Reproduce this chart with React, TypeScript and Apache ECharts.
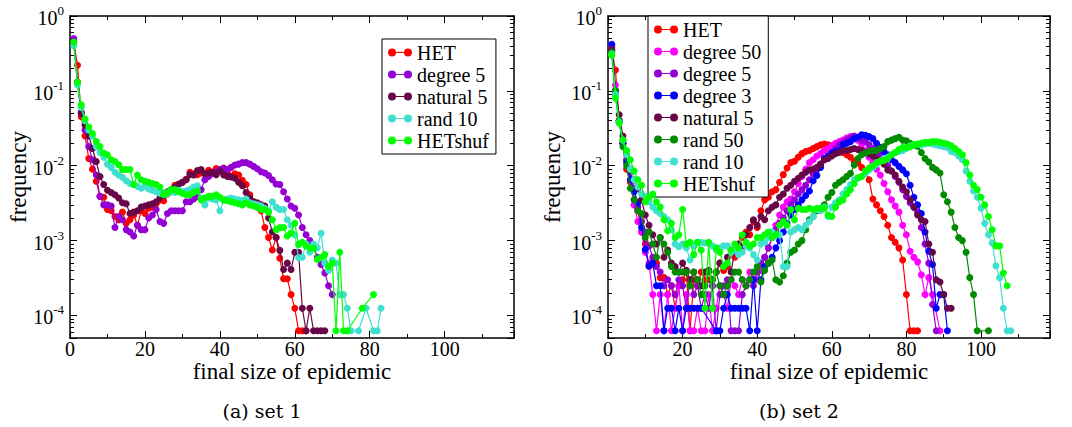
import React, { useEffect, useRef } from "react";
import * as echarts from "echarts";

const FONT = "Liberation Serif";

// ---------- (a) set 1 : frequency of final size 1, 2, 3, ... ----------
const set1Names = ["HET", "degree 5", "natural 5", "rand 10", "HETshuf"];
const set1Colors = ["#ff0000", "#9400d3", "#670748", "#40e0d0", "#00ff00"];

const set1HET = [
  0.45, 0.22, 0.045, 0.025, 0.0125, 0.009, 0.0062, 0.0039, 0.0038, 0.0026,
  0.0025, 0.0021, 0.0019, 0.0024, 0.0017, 0.0019, 0.0022, 0.0016, 0.0025, 0.0023,
  0.0027, 0.0028, 0.0031, 0.0035, 0.0034, 0.0042, 0.0045, 0.0055, 0.0057, 0.006,
  0.0066, 0.0082, 0.0078, 0.0076, 0.008, 0.0078, 0.0087, 0.008, 0.0092, 0.0087,
  0.0093, 0.008, 0.0072, 0.0078, 0.0075, 0.0064, 0.0056, 0.0041, 0.0033, 0.0028,
  0.0025, 0.0015, 0.0011, 0.00075, 0.0011, 0.00058, 0.00031, 0.00031, 0.00019, 0.000125,
  0.0000625, 0.0000625, 0.0000625,
];
const set1Deg5 = [
  0.5, 0.13, 0.052, 0.03, 0.018, 0.012, 0.0075, 0.0039, 0.003, 0.003,
  0.0029, 0.0015, 0.0021, 0.0019, 0.0014, 0.0013, 0.00115, 0.0016, 0.0014, 0.0014,
  0.002, 0.0022, 0.0026, 0.0018, 0.0017, 0.0023, 0.0025, 0.0025, 0.0025, 0.0025,
  0.0033, 0.0033, 0.0036, 0.0039, 0.0048, 0.0065, 0.0072, 0.0078, 0.0083, 0.0089,
  0.0092, 0.0089, 0.0095, 0.0102, 0.0105, 0.011, 0.011, 0.0105, 0.0098, 0.0091,
  0.0083, 0.008, 0.0074, 0.0065, 0.0057, 0.0056, 0.0045, 0.0036, 0.0029, 0.0027,
  0.0022, 0.0015, 0.0012, 0.001, 0.00085, 0.0006, 0.00048, 0.00037, 0.00025, 0.00019,
];
const set1Nat5 = [
  0.45, 0.13, 0.05, 0.035, 0.025, 0.017, 0.0114, 0.0072, 0.0056, 0.0047,
  0.0044, 0.0041, 0.0037, 0.0032, 0.0031, 0.0023, 0.0024, 0.0025, 0.0028, 0.0029,
  0.003, 0.0031, 0.0033, 0.0037, 0.004, 0.0045, 0.0048, 0.0052, 0.0056, 0.006,
  0.0065, 0.0076, 0.0075, 0.0086, 0.0089, 0.0078, 0.008, 0.0082, 0.0076, 0.0085,
  0.0075, 0.0072, 0.0071, 0.0068, 0.006, 0.0054, 0.0044, 0.0037, 0.0033, 0.0032,
  0.003, 0.0029, 0.002, 0.0013, 0.0011, 0.00074, 0.00041, 0.0005, 0.00041, 0.0007,
  0.0007, 0.000125, 0.0000625, 0.000125, 0.0000625, 0.0000625, 0.0000625, 0.0000625,
];
const set1Rand10 = [
  0.4, 0.12, 0.06, 0.04, 0.03, 0.025, 0.018, 0.015, 0.013, 0.0105,
  0.0095, 0.0082, 0.0075, 0.007, 0.0063, 0.0058, 0.0056, 0.0053, 0.005, 0.0053,
  0.0049, 0.0047, 0.0045, 0.0043, 0.0044, 0.0042, 0.0045, 0.0044, 0.0047, 0.0045,
  0.0046, 0.0048, 0.0052, 0.0054, 0.0037, 0.003, 0.0037, 0.0036, 0.0035, 0.0025,
  0.0035, 0.0036, 0.0037, 0.0036, 0.0035, 0.0034, 0.0036, 0.0032, 0.0031, 0.003,
  0.0029, 0.0027, 0.0025, 0.0033, 0.0028, 0.0026, 0.0026, 0.0019, 0.0016, 0.0012,
  0.00059, 0.0006, 0.0009, 0.0007, 0.0009, 0.0008, 0.00125, 0.0005, 0.0004, 0.00055,
  0.0005, 0.00019, 0.00019, 0.000125, 0.0000625, null, 0.0000625, null, 0.000125, null,
  0.0000625, 0.0000625, 0.000125,
];
const set1HETshuf = [
  0.45, 0.13, 0.065, 0.042, 0.033, 0.027, 0.021, 0.018, 0.0148, 0.014,
  0.012, 0.0114, 0.0103, 0.0089, 0.0089, 0.0089, 0.0056, 0.0075, 0.0065, 0.0062,
  0.006, 0.0058, 0.0056, 0.0052, 0.0041, 0.0044, 0.0048, 0.0048, 0.0045, 0.0043,
  0.0041, 0.0041, 0.0044, 0.0046, 0.0035, 0.0037, 0.0039, 0.0039, 0.0041, 0.0038,
  0.0035, 0.0034, 0.0033, 0.0032, 0.0031, 0.003, 0.0032, 0.003, 0.0029, 0.0028,
  0.0026, 0.0026, 0.0024, 0.0019, 0.0014, 0.0015, 0.0015, 0.00115, 0.00126, 0.0017,
  0.00089, 0.00095, 0.00085, 0.00079, 0.00079, 0.00056, 0.0006, 0.00065, 0.00045, 0.0005,
  0.0000625, 0.0007, 0.0000625, 0.0000625, null, null, null, 0.000125, null, null,
  0.00019,
];
const set1Series = [set1HET, set1Deg5, set1Nat5, set1Rand10, set1HETshuf];

// ---------- (b) set 2 ----------
const set2Names = ["HET", "degree 50", "degree 5", "degree 3", "natural 5", "rand 50", "rand 10", "HETshuf"];
const set2Colors = ["#ff0000", "#ff00ff", "#9400d3", "#0000ff", "#670748", "#008b00", "#40e0d0", "#00ff00"];

const set2HET = [
  0.35, 0.19, 0.04, 0.02, 0.009, 0.006, 0.0035, 0.0025, 0.0013, 0.0009,
  0.00045, 0.00048, 0.0005, 0.00032, 0.00032, 0.00019, 0.00025, 0.000125, 0.00025, 0.0003,
  0.00038, 0.0000625, 0.0003, 0.00025, 0.00038, 0.0003, 0.0003, 0.00025, 0.00038, 0.0005,
  0.0004, 0.00045, 0.00075, 0.0006, 0.0009, 0.0011, 0.0013, 0.0012, 0.0018, 0.0015,
  0.0025, 0.0035, 0.0038, 0.0045, 0.0048, 0.006, 0.0076, 0.0093, 0.011, 0.0115,
  0.013, 0.0145, 0.0155, 0.016, 0.017, 0.018, 0.019, 0.0195, 0.019, 0.0185,
  0.017, 0.016, 0.015, 0.014, 0.013, 0.0115, 0.011, 0.0095, 0.0085, 0.0065,
  0.0036, 0.003, 0.0025, 0.0021, 0.0016, 0.0011, 0.00095, 0.0008, 0.00055, 0.00019,
  0.0000625, 0.0000625, 0.0000625,
];
const set2Deg50 = [
  0.4, 0.12, 0.04, 0.02, 0.012, 0.0065, 0.003, 0.0018, 0.0013, 0.0007,
  0.0005, 0.00019, 0.0000625, 0.00019, 0.0000625, 0.00019, 0.0000625, 0.000125, 0.00025, 0.0000625,
  0.00019, 0.0000625, 0.0000625, 0.000125, 0.0000625, 0.0000625, 0.00019, 0.0000625, 0.000125, 0.00025,
  0.00019, 0.000125, 0.0003, 0.00025, 0.00019, 0.0003, 0.00025, 0.00038, 0.00031, 0.0003,
  0.0004, 0.0006, 0.0008, 0.0011, 0.0016, 0.0022, 0.0028, 0.0033, 0.0036, 0.0045,
  0.0058, 0.0072, 0.009, 0.011, 0.012, 0.0135, 0.0145, 0.016, 0.017, 0.0185,
  0.02, 0.021, 0.022, 0.0235, 0.0245, 0.024, 0.022, 0.019, 0.016, 0.013,
  0.011, 0.009, 0.0075, 0.0058, 0.0045, 0.0035, 0.0029, 0.0024, 0.0016, 0.0012,
  0.00072, 0.0006, 0.00052, 0.00035, 0.00019, 0.00032, 0.00019, null, 0.0000625,
];
const set2Deg5 = [
  0.38, 0.1, 0.04, 0.022, 0.012, 0.008, 0.005, 0.0028, 0.0018, 0.0013,
  0.00085, 0.0006, 0.00045, 0.00038, 0.00025, 0.0003, 0.00025, 0.00019, 0.0003, 0.00025,
  0.000125, 0.0003, 0.00019, 0.00025, 0.000125, 0.00019, 0.000125, 0.00025, 0.0000625, 0.00019,
  0.00025, 0.0003, 0.0000625, 0.0000625, 0.0000625, 0.00019, 0.00025, 0.0003, 0.00025, 0.00038,
  0.0005, 0.0006, 0.0008, 0.0011, 0.0014, 0.0017, 0.002, 0.0025, 0.003, 0.0035,
  0.0042, 0.0048, 0.0055, 0.0065, 0.0078, 0.009, 0.0105, 0.012, 0.0135, 0.015,
  0.017, 0.019, 0.0205, 0.022, 0.0235, 0.025, 0.024, 0.022, 0.021, 0.019,
  0.017, 0.0155, 0.014, 0.012, 0.01, 0.0085, 0.0072, 0.006, 0.0048, 0.0039,
  0.0032, 0.0028, 0.0024, 0.0015, 0.0009, 0.0005, 0.00014, 0.0000625,
];
const set2Deg3 = [
  0.42, 0.09, 0.038, 0.02, 0.011, 0.0065, 0.0045, 0.0032, 0.0015, 0.00076,
  0.00046, 0.0005, 0.00025, 0.00025, 0.0000625, 0.000125, 0.000125, 0.0000625, 0.000125, 0.0000625,
  0.000125, 0.000125, 0.000125, 0.000125, 0.000125, null, null, null, 0.0000625, 0.0000625,
  0.000125, 0.00019, 0.000125, 0.000125, 0.000125, 0.000125, 0.000125, 0.0000625, 0.0003, 0.0000625,
  0.0003, 0.00045, 0.0005, 0.0006, 0.0008, 0.001, 0.0013, 0.0017, 0.0022, 0.0026,
  0.003, 0.0035, 0.004, 0.0046, 0.0063, 0.0074, 0.0095, 0.0125, 0.0135, 0.0148,
  0.0155, 0.016, 0.019, 0.02, 0.021, 0.023, 0.024, 0.026, 0.0255, 0.0245,
  0.023, 0.02, 0.0175, 0.0155, 0.014, 0.012, 0.011, 0.0098, 0.0088, 0.0078,
  0.0055, 0.0038, 0.003, 0.0023, 0.0013, 0.00072, 0.00048, 0.000125, 0.00019, 0.00019,
  0.0000625,
];
const set2Nat5 = [
  0.36, 0.1, 0.048, 0.025, 0.014, 0.009, 0.0065, 0.005, 0.0035, 0.0022,
  0.0016, 0.0012, 0.0009, 0.0011, 0.0006, 0.00075, 0.0005, 0.00045, 0.00038, 0.0005,
  0.0004, 0.0003, 0.00038, 0.0003, 0.00025, 0.00038, 0.0004, 0.0003, 0.00038, 0.0005,
  0.00045, 0.0006, 0.00038, 0.00075, 0.0009, 0.0008, 0.0012, 0.0015, 0.0019, 0.0016,
  0.0021, 0.0019, 0.0025, 0.0028, 0.003, 0.0038, 0.0042, 0.005, 0.0055, 0.0062,
  0.0068, 0.0075, 0.0082, 0.0088, 0.009, 0.0095, 0.0105, 0.012, 0.0125, 0.0135,
  0.0145, 0.015, 0.016, 0.016, 0.0165, 0.017, 0.0165, 0.016, 0.015, 0.0145,
  0.0135, 0.0125, 0.0115, 0.0105, 0.0088, 0.0085, 0.0075, 0.0062, 0.0052, 0.0045,
  0.0035, 0.0028, 0.0022, 0.0019, 0.0018, 0.0009, 0.0007, 0.0003, 0.00028, 0.00019,
  0.000125, 0.000125,
];
const set2Rand50 = [
  0.33, 0.1, 0.04, 0.018, 0.01, 0.005, 0.0035, 0.0025, 0.0023, 0.0011,
  0.0013, 0.0009, 0.0006, 0.0011, 0.0009, 0.0007, 0.00045, 0.00038, 0.00038, 0.00038,
  0.00038, 0.00025, 0.00038, 0.0003, 0.00019, 0.00025, 0.00038, 0.0003, 0.00038, 0.00025,
  0.00019, 0.00025, 0.0003, 0.00038, 0.00038, 0.0003, 0.00025, 0.0003, 0.00038, 0.00045,
  0.00028, 0.0004, 0.0005, 0.00055, 0.0003, 0.00028, 0.00034, 0.0005, 0.0007, 0.00075,
  0.0009, 0.001, 0.0014, 0.0019, 0.0021, 0.0025, 0.0026, 0.003, 0.0038, 0.0044,
  0.0055, 0.006, 0.0065, 0.0072, 0.0079, 0.0102, 0.0125, 0.014, 0.0148, 0.0155,
  0.016, 0.016, 0.017, 0.018, 0.021, 0.022, 0.023, 0.024, 0.022, 0.0215,
  0.02, 0.019, 0.0182, 0.015, 0.0125, 0.0112, 0.0095, 0.0088, 0.008, 0.0041,
  0.0033, 0.0024, 0.0015, 0.0011, 0.001, 0.0007, 0.00032, 0.00019, 0.0000625, null,
  null, 0.0000625,
];
const set2Rand10 = [
  0.31, 0.09, 0.038, 0.022, 0.014, 0.009, 0.0065, 0.0052, 0.0042, 0.0039,
  0.0033, 0.0028, 0.0025, 0.0023, 0.0021, 0.0019, 0.0014, 0.0009, 0.00083, 0.0009,
  0.0008, 0.00055, 0.00085, 0.00095, 0.00095, 0.00093, 0.00093, 0.00085, 0.00075, 0.0008,
  0.00085, 0.00085, 0.0007, 0.00075, 0.00065, 0.0007, 0.00085, 0.0008, 0.00065, 0.00055,
  0.0009, 0.00095, 0.0011, 0.0013, 0.0012, 0.0012, 0.00045, 0.00045, 0.0013, 0.0014,
  0.0015, 0.0014, 0.0016, 0.0018, 0.0021, 0.0026, 0.0025, 0.0028, 0.0021, 0.0028,
  0.0032, 0.0035, 0.0042, 0.0048, 0.0056, 0.0065, 0.0068, 0.0072, 0.0079, 0.0088,
  0.0095, 0.0105, 0.0115, 0.0125, 0.013, 0.014, 0.015, 0.0155, 0.016, 0.017,
  0.0185, 0.019, 0.0195, 0.019, 0.0195, 0.02, 0.0195, 0.019, 0.0185, 0.018,
  0.0175, 0.0155, 0.015, 0.0135, 0.012, 0.0085, 0.0062, 0.0046, 0.0038, 0.0027,
  0.0017, 0.0012, 0.00093, 0.00046, 0.00032, 0.000125, 0.0000625, 0.0000625,
];
const set2HETshuf = [
  0.3, 0.08, 0.037, 0.022, 0.016, 0.012, 0.0085, 0.0065, 0.0055, 0.0033,
  0.0038, 0.0042, 0.0033, 0.0028, 0.0019, 0.00135, 0.0017, 0.0011, 0.0012, 0.0026,
  0.0009, 0.00095, 0.00065, 0.00095, 0.00075, 0.000125, 0.00095, 0.000125, 0.0008, 0.0007,
  0.00045, 0.0005, 0.00075, 0.0009, 0.0008, 0.0012, 0.00095, 0.00085, 0.0009, 0.0011,
  0.0011, 0.0012, 0.0013, 0.0011, 0.0012, 0.0016, 0.0018, 0.0016, 0.0026, 0.0019,
  0.0027, 0.0026, 0.0026, 0.0027, 0.0026, 0.0027, 0.0027, 0.0027, 0.0022, 0.0021,
  0.0028, 0.0033, 0.0035, 0.0042, 0.0048, 0.0058, 0.0069, 0.0072, 0.0085, 0.0093,
  0.01, 0.011, 0.0115, 0.0118, 0.0125, 0.014, 0.015, 0.0165, 0.0175, 0.0175,
  0.018, 0.019, 0.0195, 0.02, 0.0205, 0.0205, 0.021, 0.021, 0.0205, 0.02,
  0.0195, 0.0185, 0.017, 0.0155, 0.014, 0.011, 0.0075, 0.0055, 0.0048, 0.0038,
  0.003, 0.0021, 0.0014, 0.00085, 0.00085, 0.00037, 0.00025,
];
const set2Series = [set2HET, set2Deg50, set2Deg5, set2Deg3, set2Nat5, set2Rand50, set2Rand10, set2HETshuf];

const captions = ["(a) set 1", "(b) set 2"];
const xAxisTitle = "final size of epidemic";
const yAxisTitle = "frequency";

// ---------- layout ----------
const GRIDS = [
  { left: 70, top: 16, width: 444, height: 322 },
  { left: 608, top: 16, width: 442, height: 322 },
];
const X_MAX = 118.5;
const Y_MIN = 5e-5;
const Y_MAX = 1;

const LEGEND_ICON =
  "path://M0,4A4,4,0,1,1,8,4A4,4,0,1,1,0,4ZM16,4A4,4,0,1,1,24,4A4,4,0,1,1,16,4ZM4,3.4L20,3.4L20,4.6L4,4.6Z";

const toPoints = (ys: (number | null)[]) =>
  ys.map((v, i) => (v == null ? null : [i + 1, v])).filter((p) => p !== null);

const lineBlack = { color: "#000", width: 1.5 };

function xAxis(gridIndex: number, position: "bottom" | "top") {
  const main = position === "bottom";
  return {
    type: "value",
    gridIndex,
    position,
    min: 0,
    max: X_MAX,
    interval: 20,
    axisLine: { show: true, onZero: false, lineStyle: lineBlack },
    axisTick: { show: true, inside: true, length: 7, lineStyle: { color: "#000", width: 1 } },
    minorTick: { show: true, splitNumber: 2, length: 4, lineStyle: { color: "#000", width: 1 } },
    splitLine: { show: false },
    minorSplitLine: { show: false },
    axisLabel: {
      show: main,
      margin: 1,
      fontFamily: FONT,
      fontSize: 20,
      color: "#000",
      showMaxLabel: false,
      formatter: (v: number) => (Math.abs(v % 20) < 1e-9 ? String(v) : ""),
    },
    name: main ? xAxisTitle : "",
    nameLocation: "middle",
    nameGap: 22,
    nameMoveOverlap: false,
    nameTextStyle: { fontFamily: FONT, fontSize: 23, color: "#000" },
  };
}

function yAxis(gridIndex: number, position: "left" | "right", nameGap: number) {
  const main = position === "left";
  return {
    type: "log",
    logBase: 10,
    gridIndex,
    position,
    min: Y_MIN,
    max: Y_MAX,
    axisLine: { show: true, onZero: false, lineStyle: lineBlack },
    axisTick: { show: true, inside: true, length: 7, lineStyle: { color: "#000", width: 1 } },
    minorTick: { show: true, splitNumber: 9, length: 4, lineStyle: { color: "#000", width: 1 } },
    splitLine: { show: false },
    minorSplitLine: { show: false },
    axisLabel: {
      show: main,
      margin: 6,
      formatter: (v: number) => {
        const l = Math.log10(v);
        const e = Math.round(l);
        if (Math.abs(l - e) > 1e-6) return "";
        return `{b|10}{s|${e}}`;
      },
      rich: {
        b: { fontFamily: FONT, fontSize: 20, color: "#000", lineHeight: 24, verticalAlign: "bottom" },
        s: { fontFamily: FONT, fontSize: 13, color: "#000", lineHeight: 13, verticalAlign: "top" },
      },
    },
    name: main ? yAxisTitle : "",
    nameLocation: "middle",
    nameRotate: 90,
    nameGap,
    nameMoveOverlap: false,
    nameTextStyle: { fontFamily: FONT, fontSize: 23, color: "#000" },
  };
}

function makeSeries(data: (number | null)[][], names: string[], colors: string[], axisIndex: number) {
  return data.map((ys, i) => ({
    type: "line",
    name: names[i],
    xAxisIndex: axisIndex,
    yAxisIndex: axisIndex,
    data: toPoints(ys),
    symbol: "circle",
    symbolSize: 7,
    showSymbol: true,
    connectNulls: true,
    lineStyle: { color: colors[i], width: 1.2 },
    itemStyle: { color: colors[i] },
    emphasis: { disabled: true },
    z: 2 + i,
  }));
}

function legend(names: string[], left: number, top: number) {
  return {
    data: names,
    orient: "vertical",
    left,
    top,
    icon: LEGEND_ICON,
    itemWidth: 24,
    itemHeight: 8,
    itemGap: 1,
    padding: [3, 7, 3, 6],
    backgroundColor: "#fff",
    borderColor: "#000",
    borderWidth: 1,
    selectedMode: false,
    itemStyle: { borderWidth: 0 },
    textStyle: { fontFamily: FONT, fontSize: 20, color: "#000", lineHeight: 21 },
  };
}

export default function App() {
  const ref = useRef<HTMLDivElement>(null);
  useEffect(() => {
    if (!ref.current) return;
    const chart = echarts.init(ref.current, undefined, { renderer: "svg" });
    const option: any = {
      animation: false,
      backgroundColor: "#fff",
      textStyle: { fontFamily: FONT },
      grid: GRIDS.map((g) => ({ ...g, containLabel: false, outerBoundsMode: "none", show: false })),
      xAxis: [xAxis(0, "bottom"), xAxis(0, "top"), xAxis(1, "bottom"), xAxis(1, "top")],
      yAxis: [yAxis(0, "left", 40), yAxis(0, "right", 40), yAxis(1, "left", 44), yAxis(1, "right", 44)],
      legend: [legend(set1Names, 382, 39), legend(set2Names, 648, 16)],
      series: [
        ...makeSeries(set1Series, set1Names, set1Colors, 0),
        ...makeSeries(set2Series, set2Names, set2Colors, 2),
      ],
      graphic: captions.map((c, i) => ({
        type: "text",
        x: i === 0 ? 262 : 799,
        y: 411,
        style: {
          text: c,
          fontFamily: "DejaVu Serif",
          fontSize: 19,
          fill: "#000",
          align: "center",
          verticalAlign: "middle",
          textAlign: "center",
          textVerticalAlign: "middle",
        },
      })),
    };
    chart.setOption(option);
    return () => chart.dispose();
  }, []);
  return (
    <div
      ref={ref}
      style={{ position: "absolute", left: 0, top: 0, width: 1072, height: 427, background: "#fff" }}
    />
  );
}
